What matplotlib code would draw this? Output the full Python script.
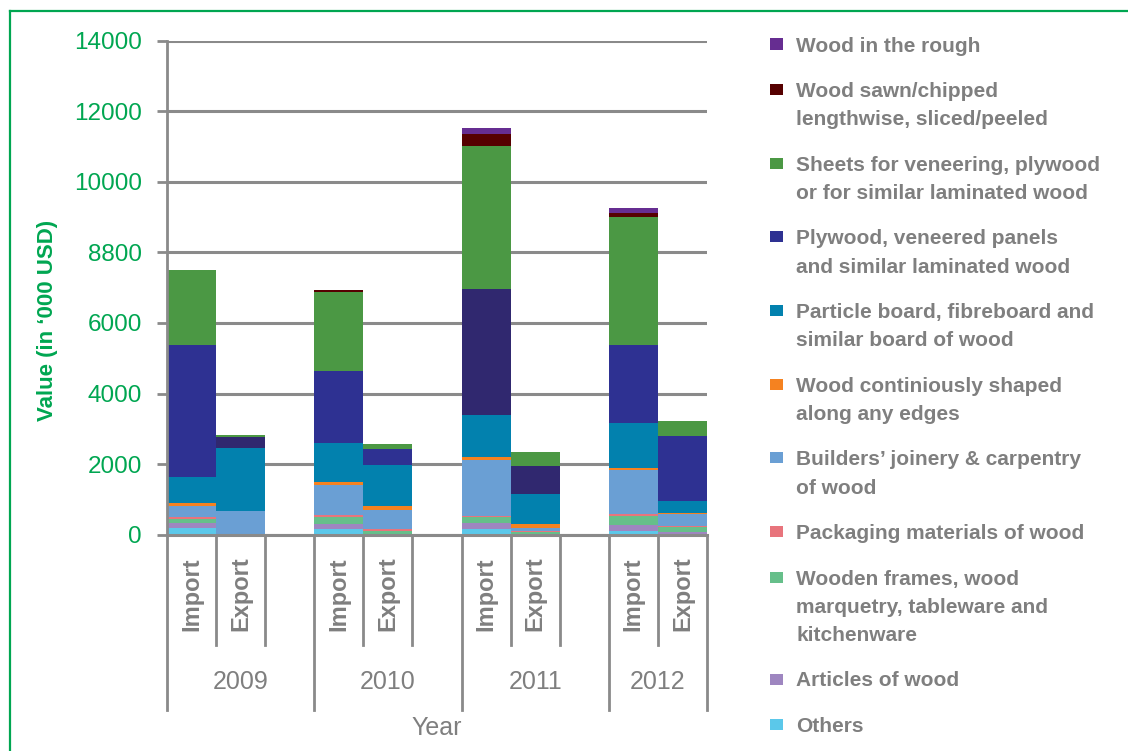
import matplotlib
matplotlib.use('Agg')
import matplotlib.pyplot as plt
from matplotlib.patches import Rectangle
from matplotlib.lines import Line2D
from matplotlib.transforms import blended_transform_factory

plt.rcParams['font.family'] = ['Liberation Sans', 'DejaVu Sans']

years = ['2009', '2010', '2011', '2012']
flows = ['Import', 'Export']

# values in '000 USD, bars ordered Imp09, Exp09, Imp10, Exp10, Imp11, Exp11, Imp12, Exp12
others = [190, 0, 150, 0, 170, 0, 110, 0]
articles = [140, 0, 140, 0, 170, 30, 170, 75]
frames = [120, 0, 215, 105, 170, 55, 245, 130]
packaging = [60, 0, 65, 55, 30, 20, 55, 40]
joinery = [295, 670, 825, 530, 1590, 85, 1260, 330]
shaped = [95, 0, 85, 115, 85, 105, 60, 30]
particle = [740, 1790, 1105, 1165, 1190, 845, 1275, 360]
plywood = [3745, 310, 2045, 455, 3550, 795, 2185, 1845]
sheets = [2100, 55, 2250, 140, 4055, 400, 3630, 400]
sawn = [0, 0, 40, 0, 340, 0, 115, 0]
rough = [0, 0, 20, 0, 170, 0, 140, 0]

y_ticks = [0, 2000, 4000, 6000, 8000, 10000, 12000, 14000]
y_tick_labels = ['0', '2000', '4000', '6000', '8800', '10000', '12000', '14000']

# stacking order, bottom first
series = [
    ('Others', others, '#5BC8EA'),
    ('Articles of wood', articles, '#9E86C0'),
    ('Wooden frames, wood\nmarquetry, tableware and\nkitchenware', frames, '#66BF8A'),
    ('Packaging materials of wood', packaging, '#E8747C'),
    ('Builders\u2019 joinery & carpentry\nof wood', joinery, '#6A9FD4'),
    ('Wood continiously shaped\nalong any edges', shaped, '#F58220'),
    ('Particle board, fibreboard and\nsimilar board of wood', particle, '#0281AE'),
    ('Plywood, veneered panels\nand similar laminated wood', plywood, '#2E3192'),
    ('Sheets for veneering, plywood\nor for similar laminated wood', sheets, '#4B9844'),
    ('Wood sawn/chipped\nlengthwise, sliced/peeled', sawn, '#560000'),
    ('Wood in the rough', rough, '#662D91'),
]
# some plywood bars came out in a darker navy
plywood_shades = ['#2E3192', '#30286F', '#2E3192', '#2E3192',
                  '#30286F', '#30286F', '#2E3192', '#2E3192']

GREEN = '#00A651'
GREY = '#7F7F7F'
LINE = '#8A8A8A'
W, H = 1128, 751

fig = plt.figure(figsize=(W / 100, H / 100), dpi=100)
ax = fig.add_axes([167 / W, 1 - 534.7 / H, 540 / W, 494.2 / H])

xpos = []
for i in range(len(years)):
    xpos += [3 * i, 3 * i + 1]

bottom = [0] * len(xpos)
for name, vals, color in series:
    colors = plywood_shades if vals is plywood else color
    ax.bar(xpos, vals, bottom=bottom, width=1.0, color=colors,
           linewidth=0, zorder=2)
    bottom = [b + v for b, v in zip(bottom, vals)]

ax.set_xlim(-0.5, 10.5)
ax.set_ylim(0, 14000)
ax.set_yticks(y_ticks)
ax.set_yticklabels(y_tick_labels)
ax.set_xticks([])
ax.yaxis.grid(True, color=LINE, linewidth=2.2)
ax.set_axisbelow(True)
ax.tick_params(axis='y', length=7.2, width=2, color=LINE, pad=11,
               labelsize=17.5, labelcolor=GREEN)
for s in ['top', 'right', 'bottom']:
    ax.spines[s].set_visible(False)
ax.spines['left'].set_color(LINE)
ax.spines['left'].set_linewidth(2)
ax.axhline(0, color=LINE, linewidth=2.2, zorder=3, clip_on=False)

# two-level category axis below the bars
SHORT, LONG = -0.223, -0.355
tr = blended_transform_factory(ax.transData, ax.transAxes)
for i, year in enumerate(years):
    last = i == len(years) - 1
    start = 3 * i - 0.5
    end = 3 * i + 1.5 if last else 3 * i + 2.5
    ax.plot([start, start], [0, LONG], transform=tr, clip_on=False,
            color=LINE, linewidth=2)
    ax.plot([3 * i + 0.5] * 2, [0, SHORT], transform=tr, clip_on=False,
            color=LINE, linewidth=2)
    ax.plot([3 * i + 1.5] * 2, [0, LONG if last else SHORT], transform=tr,
            clip_on=False, color=LINE, linewidth=2)
    for j, flow in enumerate(flows):
        ax.text(3 * i + j, -0.12, flow, transform=tr, rotation=90,
                ha='center', va='center', fontsize=17, fontweight='bold',
                color=GREY)
    ax.text((start + end) / 2, -0.298, year, transform=tr, ha='center',
            va='center', fontsize=18, color=GREY)

ax.text(0.5, -0.391, 'Year', transform=ax.transAxes, ha='center',
        va='center', fontsize=18, color=GREY)

fig.text(48 / W, 1 - 320 / H, 'Value (in \u2018000 USD)', rotation=90,
         ha='center', va='center', fontsize=16, fontweight='bold', color=GREEN)

# legend, top entry is the top of the stack
y = 44.0
for name, vals, color in reversed(series):
    fig.add_artist(Rectangle((770 / W, 1 - (y + 5.5) / H), 13 / W, 11 / H,
                             transform=fig.transFigure, color=color,
                             linewidth=0))
    lines = name.split('\n')
    for k, line in enumerate(lines):
        fig.text(796 / W, 1 - (y + 7.5 + 28.3 * k) / H, line, ha='left',
                 va='baseline', fontsize=15, fontweight='bold', color=GREY)
    y += 45.4 + 28.3 * (len(lines) - 1)

# green frame
fig.add_artist(Line2D([10 / W, 10 / W], [0, 1 - 11 / H],
                      transform=fig.transFigure, color=GREEN, linewidth=1.6))
fig.add_artist(Line2D([10 / W, 1], [1 - 11 / H, 1 - 11 / H],
                      transform=fig.transFigure, color=GREEN, linewidth=1.6))

fig.savefig('out.png', dpi=100)
